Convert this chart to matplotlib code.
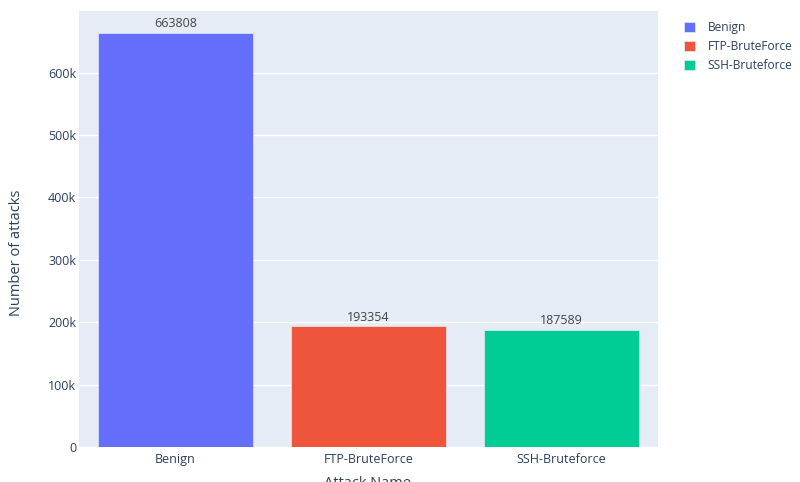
import matplotlib
matplotlib.use("Agg")
import matplotlib.pyplot as plt
from matplotlib.ticker import FuncFormatter

plt.rcParams["font.family"] = ["Open Sans", "DejaVu Sans"]

attack_names = ["Benign", "FTP-BruteForce", "SSH-Bruteforce"]
attack_counts = [663808, 193354, 187589]
bar_colors = ["#636efa", "#EF553B", "#00cc96"]

TEXT = "#2a3f5f"
BG = "#E5ECF6"

fig = plt.figure(figsize=(8, 4.82), dpi=100)
ax = fig.add_axes([79 / 800, 1 - 447 / 482, (658 - 79) / 800, (447 - 11) / 482])
ax.set_facecolor(BG)

x = range(len(attack_names))
bars = ax.bar(x, attack_counts, width=0.8, color=bar_colors,
              edgecolor=BG, linewidth=0.5, label=attack_names, zorder=3)

for b, v in zip(bars, attack_counts):
    ax.annotate(str(v), (b.get_x() + b.get_width() / 2, v),
                xytext=(0, 2), textcoords="offset points",
                ha="center", va="bottom", fontsize=9, color="#444444", zorder=4)

ax.set_xlim(-0.5, 2.5)
ax.set_ylim(0, max(attack_counts) * 1.0526)
ax.set_yticks(range(0, 700000, 100000))
ax.yaxis.set_major_formatter(FuncFormatter(lambda v, _: "0" if v == 0 else f"{int(v / 1000)}k"))
ax.set_xticks(list(x))
ax.set_xticklabels(attack_names)
ax.grid(axis="y", color="white", linewidth=1, zorder=0)
ax.set_axisbelow(True)
for s in ax.spines.values():
    s.set_visible(False)
ax.tick_params(axis="y", length=0, pad=2, labelsize=9, labelcolor=TEXT)
ax.tick_params(axis="x", length=0, pad=4, labelsize=9, labelcolor=TEXT)

fig.text(17 / 800, 229 / 482, "Number of attacks", rotation=90,
         ha="center", va="center", fontsize=10.5, color=TEXT)
fig.text(368 / 800, 1 - 476 / 482, "Attack Name",
         ha="center", va="top", fontsize=10.5, color=TEXT)

fig.legend(handles=list(bars), labels=attack_names, loc="upper left",
           bbox_to_anchor=(673 / 800, 1 - 10 / 482), frameon=False,
           handlelength=0.9, handleheight=0.9, handletextpad=1.1,
           labelspacing=0.5, fontsize=8.6, labelcolor=TEXT)

fig.savefig("out.png", dpi=100)
